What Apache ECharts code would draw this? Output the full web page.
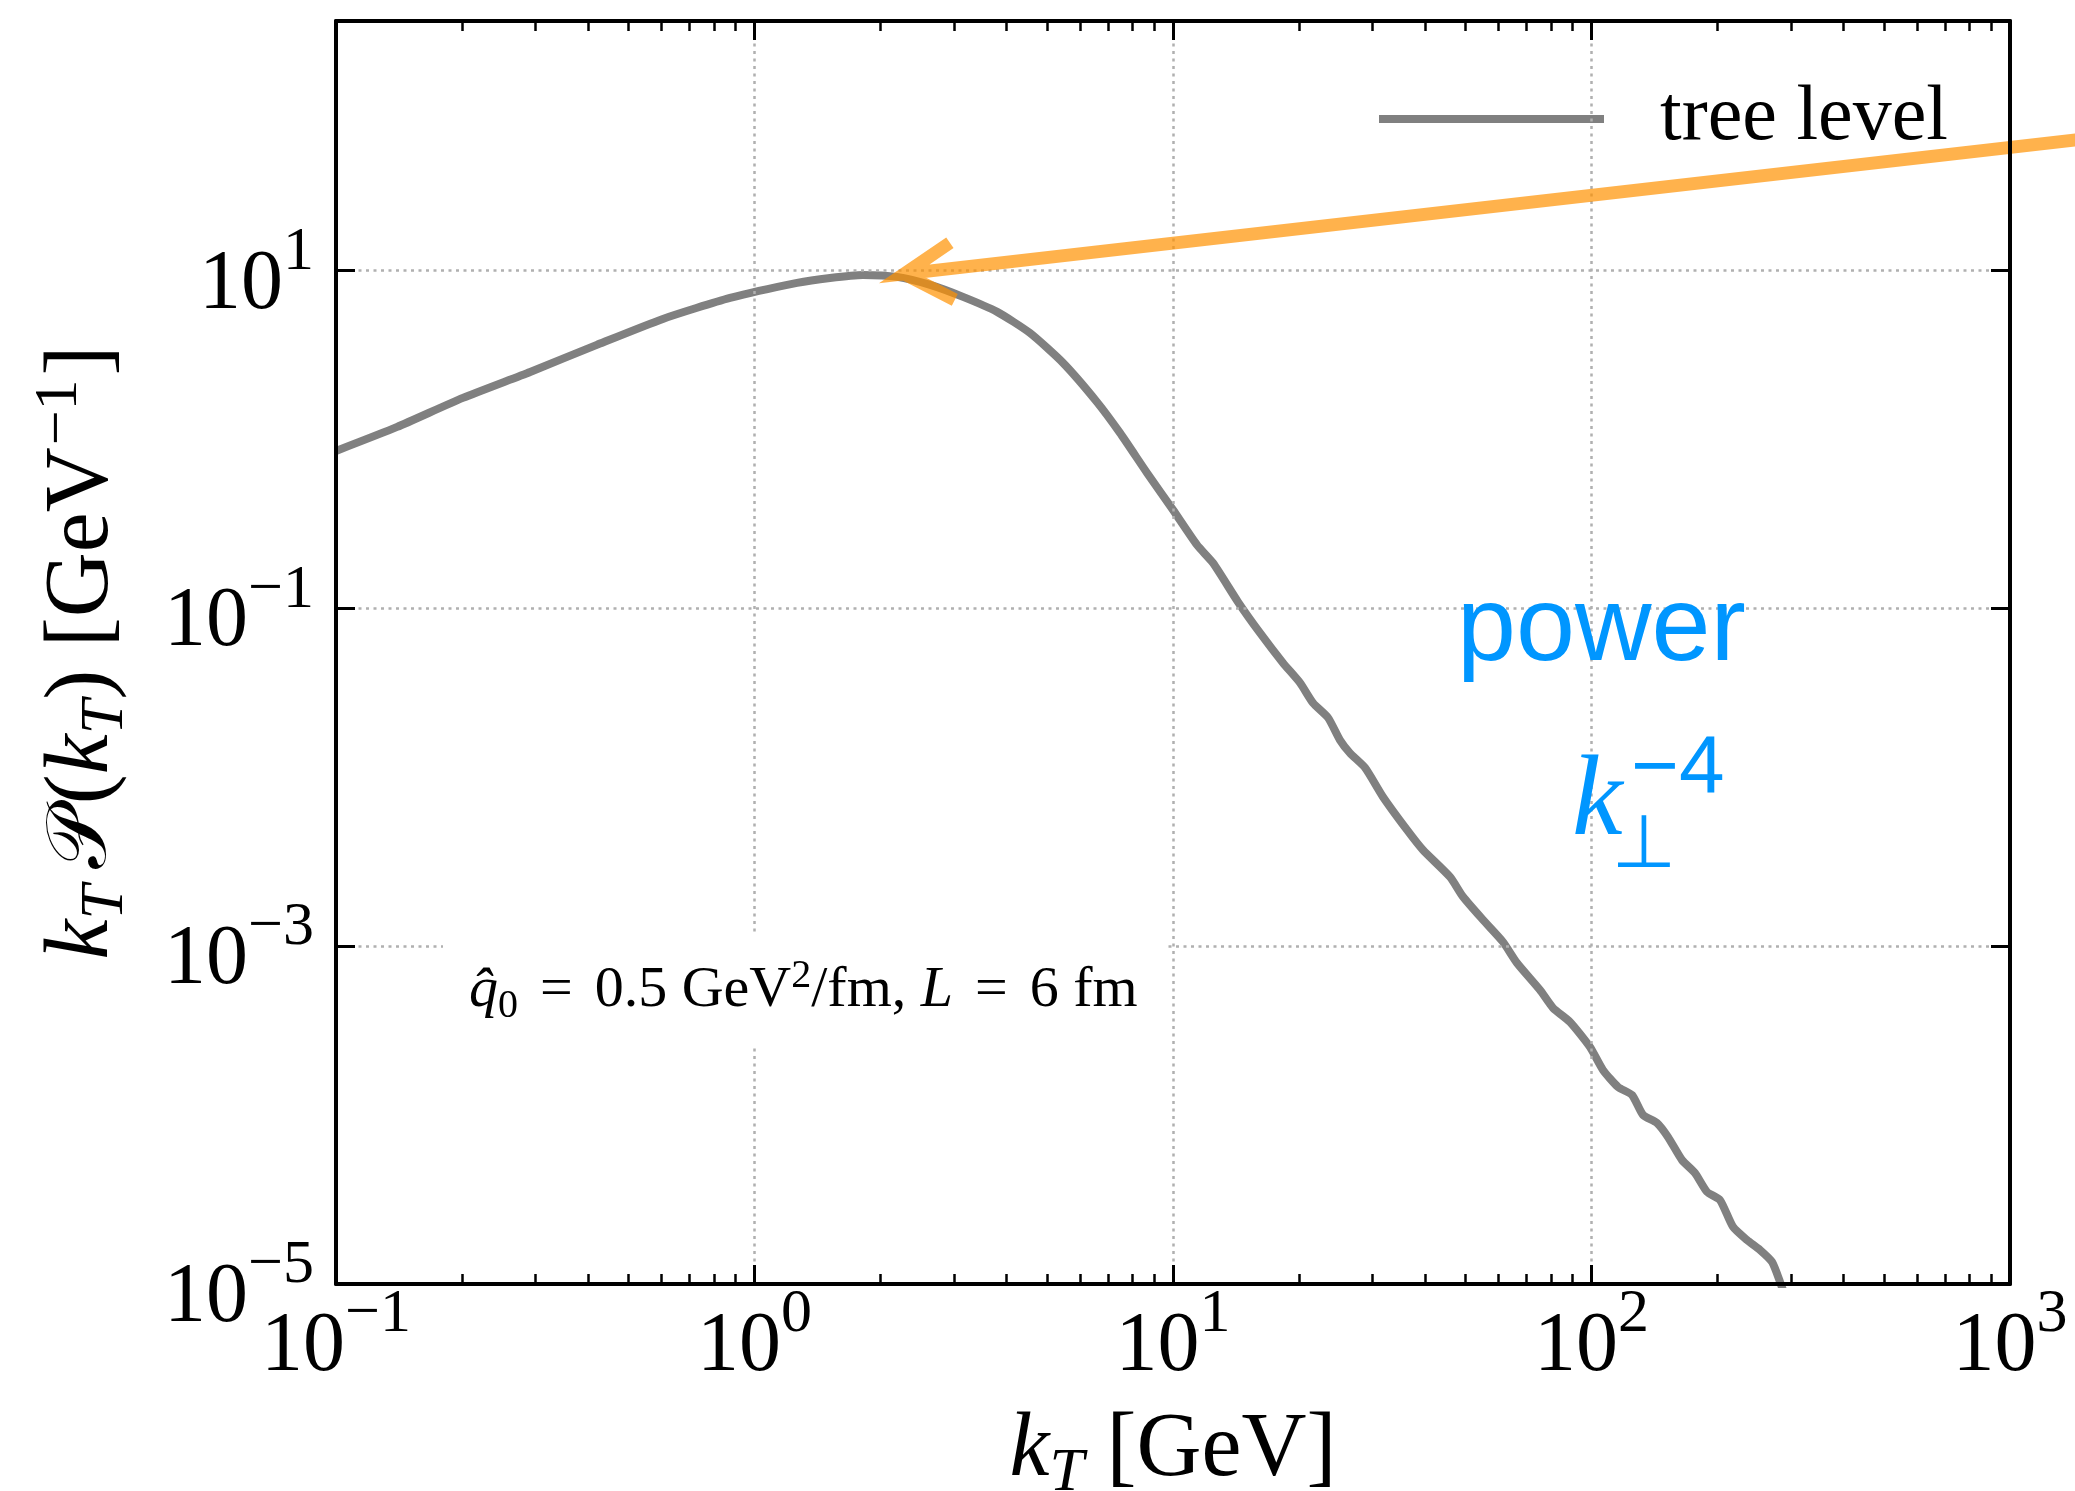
<!DOCTYPE html>
<html>
<head>
<meta charset="utf-8">
<title>k_T distribution</title>
<script src="https://cdn.jsdelivr.net/npm/echarts@6.0.0/dist/echarts.min.js"></script>
<style>
  html, body { margin: 0; padding: 0; background: #ffffff; }
  #chart { width: 2075px; height: 1491px; }
</style>
</head>
<body>
<div id="chart"></div>
<script>
// Transverse-momentum distribution k_T P(k_T) at tree level
const kT = [0.100, 0.140, 0.201, 0.291, 0.420, 0.604, 0.874, 1.264, 1.515, 1.816,
  2.19, 2.63, 3.15, 3.80, 4.55, 5.46, 6.58, 7.47, 8.67, 10.0,
  11.41, 12.46, 14.30, 16.14, 18.32, 20.12, 21.61, 23.47, 25.06, 26.48,
  28.76, 31.76, 36.24, 39.57, 45.91, 49.32, 55.06, 61.43, 66.37, 75.33,
  80.91, 88.84, 99.17, 106.5, 115.7, 125.0, 132.8, 143.4, 152.3, 164.5,
  176.7, 188.8, 202.8, 217.8, 235.3, 252.7, 270.0, 282.1, 298.1];
const kTP = [0.855, 1.186, 1.762, 2.51, 3.63, 5.17, 6.88, 8.45, 9.04, 9.42,
  9.17, 8.22, 6.98, 5.69, 4.27, 2.84, 1.667, 1.093, 0.633, 0.3825,
  0.2373, 0.1857, 0.1091, 0.0715, 0.0475, 0.0362, 0.0275, 0.0225, 0.0166, 0.0139,
  0.0114, 0.00765, 0.00488, 0.00371, 0.00257, 0.00196, 0.00143, 0.00106, 0.000795, 0.000550,
  0.000431, 0.000356, 0.000253, 0.000185, 0.0001467, 0.0001315, 0.0001001, 0.0000898, 0.0000742, 0.0000542,
  0.0000454, 0.0000351, 0.0000314, 0.0000218, 0.0000182, 0.0000159, 0.0000135, 0.0000103, 0.0000070];

// Pointer arrow: tail -> tip -> upper barb -> tip -> lower barb
const arrowKT = [1832, 2.28, 2.93, 2.28, 3.01];
const arrowP = [63.6, 9.55, 14.6, 9.55, 6.70];

// Axis ranges and decade ticks (exponents of ten)
const xRange = [0.1, 1000];
const yRange = [1e-5, 300];
const xTickExp = [-1, 0, 1, 2, 3];
const yTickExp = [-5, -3, -1, 1];
const minorMultiples = [2, 3, 4, 5, 6, 7, 8, 9];

// Both axes are logarithmic: values are plotted as log10 on value axes
const lg = Math.log10;
const X0 = lg(xRange[0]), X1 = lg(xRange[1]);
const Y0 = lg(yRange[0]), Y1 = lg(yRange[1]);
const xMinor = [];
for (let d = Math.round(X0); d < Math.round(X1); d++) {
  for (const m of minorMultiples) xMinor.push(d + lg(m));
}
const curve = kT.map((x, i) => [lg(x), lg(kTP[i])]);
const arrowPts = arrowKT.map((x, i) => [lg(x), lg(arrowP[i])]);

const SERIF = '"Liberation Serif", "Times New Roman", serif';
const SANS = '"Liberation Sans", Arial, sans-serif';
const BLUE = '#0096ff';
const ORANGE = 'rgba(255,146,0,0.7)';

const expText = e => (e < 0 ? '\u2212' + (-e) : String(e));
const powLabel = v => '{b|10}{s|' + expText(Math.round(v)) + '}';

const tickRich = {
  b: { fontFamily: SERIF, fontSize: 84, lineHeight: 106, verticalAlign: 'bottom', color: '#000' },
  s: { fontFamily: SERIF, fontSize: 62, lineHeight: 62, verticalAlign: 'top', color: '#000' }
};
const nameRich = {
  i: { fontFamily: SERIF, fontStyle: 'italic', fontSize: 90, lineHeight: 108, color: '#000' },
  n: { fontFamily: SERIF, fontSize: 90, lineHeight: 108, color: '#000' },
  p: { fontFamily: '"DejaVu Serif", "DejaVu Sans", serif', fontSize: 84, lineHeight: 108, color: '#000', padding: [0, 4, 0, 16] },
  sub: { fontFamily: SERIF, fontStyle: 'italic', fontSize: 62, lineHeight: 62, verticalAlign: 'bottom', color: '#000' },
  sup: { fontFamily: SERIF, fontSize: 62, lineHeight: 62, verticalAlign: 'top', color: '#000', padding: [0, 4, 0, 2] }
};
const annRich = {
  q: { fontFamily: SERIF, fontStyle: 'italic', fontSize: 58, lineHeight: 70, color: '#000' },
  t: { fontFamily: SERIF, fontSize: 58, lineHeight: 70, color: '#000' },
  e: { fontFamily: SERIF, fontSize: 58, lineHeight: 70, color: '#000', padding: [0, 22, 0, 22] },
  L: { fontFamily: SERIF, fontStyle: 'italic', fontSize: 58, lineHeight: 70, color: '#000' },
  sb: { fontFamily: SERIF, fontSize: 40, lineHeight: 40, verticalAlign: 'bottom', color: '#000' },
  sp: { fontFamily: SERIF, fontSize: 40, lineHeight: 40, verticalAlign: 'top', color: '#000' }
};

const frameLine = { show: true, onZero: false, lineStyle: { color: '#000', width: 4 } };
const hiddenLine = { show: false, onZero: false };
const majorTicks = vals => ({ show: true, inside: true, length: 19, customValues: vals, lineStyle: { color: '#000', width: 3 } });
const minorTicks = vals => ({ show: true, inside: true, length: 10, customValues: vals, lineStyle: { color: '#000', width: 2.5 } });
const noLabel = { show: false };
const noSplit = { show: false };

const chart = echarts.init(document.getElementById('chart'), null, { renderer: 'canvas' });
chart.setOption({
  animation: false,
  backgroundColor: '#ffffff',
  grid: { left: 336, right: 65, top: 21, bottom: 207, containLabel: false, outerBoundsMode: 'none' },
  xAxis: [
    {
      type: 'value', position: 'bottom', min: X0, max: X1, z: 10,
      axisLine: frameLine, axisTick: majorTicks(xTickExp), splitLine: noSplit,
      axisLabel: { show: true, customValues: xTickExp, margin: 0, formatter: powLabel, rich: tickRich },
      name: '{i|k}{sub|T}{n| [GeV]}', nameLocation: 'middle', nameGap: 113,
      nameTextStyle: { rich: nameRich }
    },
    { type: 'value', position: 'bottom', min: X0, max: X1, z: 10, axisLine: hiddenLine, axisTick: minorTicks(xMinor), axisLabel: noLabel, splitLine: noSplit },
    { type: 'value', position: 'top', min: X0, max: X1, z: 10, axisLine: frameLine, axisTick: majorTicks(xTickExp), axisLabel: noLabel, splitLine: noSplit },
    { type: 'value', position: 'top', min: X0, max: X1, z: 10, axisLine: hiddenLine, axisTick: minorTicks(xMinor), axisLabel: noLabel, splitLine: noSplit }
  ],
  yAxis: [
    {
      type: 'value', position: 'left', min: Y0, max: Y1, z: 10,
      axisLine: frameLine, axisTick: majorTicks(yTickExp), splitLine: noSplit,
      axisLabel: { show: true, customValues: yTickExp, margin: 22, padding: [8, 0, 0, 0], formatter: powLabel, rich: tickRich },
      name: '{i|k}{sub|T}{p|\u{1D4AB}}{n|(}{i|k}{sub|T}{n|) [GeV}{sup|\u22121}{n|]}',
      nameLocation: 'middle', nameRotate: 90, nameGap: 199,
      nameTextStyle: { rich: nameRich }
    },
    { type: 'value', position: 'right', min: Y0, max: Y1, z: 10, axisLine: frameLine, axisTick: majorTicks(yTickExp), axisLabel: noLabel, splitLine: noSplit }
  ],
  legend: {
    data: ['tree level'], left: 1360, top: 45, icon: 'rect', itemWidth: 225, itemHeight: 8,
    padding: [35, 22, 6, 19], backgroundColor: 'rgba(255,255,255,0.8)', z: 4, selectedMode: false,
    textStyle: { fontFamily: SERIF, fontSize: 78, color: '#000', padding: [16, 0, 0, 51] }
  },
  series: [
    {
      type: 'line', name: 'grid', data: [], silent: true, z: 1,
      markLine: {
        silent: true, symbol: ['none', 'none'], label: { show: false }, animation: false,
        lineStyle: { color: '#b0b0b0', width: 2.5, type: [3, 4.5] },
        data: [
          ...xTickExp.slice(1, -1).map(v => ({ xAxis: v })),
          ...yTickExp.slice(1).map(v => ({ yAxis: v }))
        ]
      }
    },
    {
      type: 'line', name: 'tree level', data: curve, symbol: 'none', showSymbol: false, z: 3, clip: true,
      smooth: 0.2,
      lineStyle: { color: '#808080', width: 8, join: 'round' }, itemStyle: { color: '#808080' }
    }
  ]
});

// The pointer arrow runs past the plotting frame, so it is drawn as an
// unclipped polyline whose vertices come from the grid's own coordinate mapping.
const arrowPixels = arrowPts.map(p => chart.convertToPixel({ gridIndex: 0 }, p));

chart.setOption({
  graphic: [
    {
      type: 'polyline', z: 6, silent: true,
      shape: { points: arrowPixels },
      style: { stroke: ORANGE, fill: null, lineWidth: 13, lineCap: 'butt', lineJoin: 'miter' }
    },
    {
      type: 'text', left: 443, top: 933, z: 20,
      style: {
        text: '{q|q\u0302}{sb|0}{e|=}{t|0.5 GeV}{sp|2}{t|/fm, }{L|L}{e|=}{t|6 fm}',
        rich: annRich, backgroundColor: '#ffffff', padding: [23, 30, 21, 26]
      }
    },
    {
      type: 'text', x: 1457, y: 631, z: 20,
      style: { text: 'power', fontFamily: SANS, fontSize: 106, fill: BLUE, align: 'left', verticalAlign: 'middle', textAlign: 'left', textVerticalAlign: 'middle' }
    },
    {
      type: 'text', x: 1572, y: 804, z: 20,
      style: { text: 'k', fontFamily: SERIF, fontStyle: 'italic', fontSize: 114, fill: BLUE, align: 'left', verticalAlign: 'middle', textAlign: 'left', textVerticalAlign: 'middle' }
    },
    {
      type: 'text', x: 1644, y: 848, z: 20,
      style: { text: '\u22A5', fontFamily: '"DejaVu Sans", sans-serif', fontSize: 74, fill: BLUE, align: 'center', verticalAlign: 'middle', textAlign: 'center', textVerticalAlign: 'middle' }
    },
    {
      type: 'text', x: 1631, y: 770, z: 20,
      style: { text: '\u22124', fontFamily: SANS, fontSize: 82, fill: BLUE, align: 'left', verticalAlign: 'middle', textAlign: 'left', textVerticalAlign: 'middle' }
    }
  ]
});
</script>
</body>
</html>
